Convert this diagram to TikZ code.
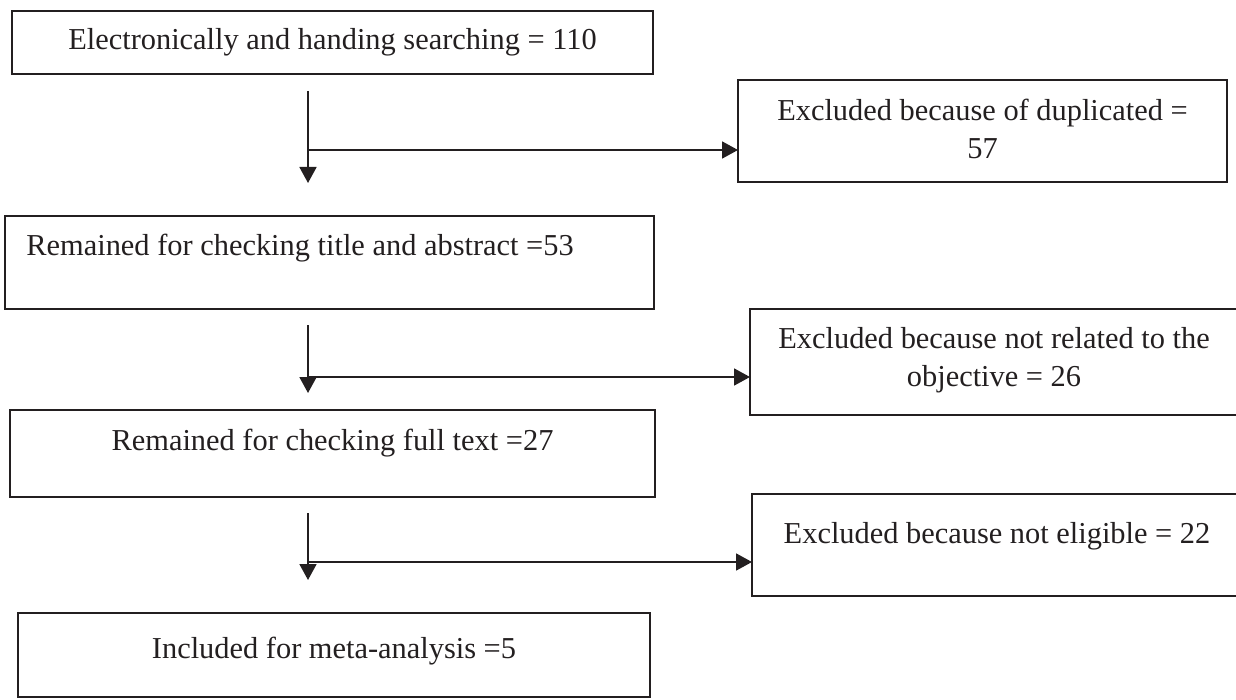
\documentclass[tikz,border=0pt]{standalone}
\usepackage{fontspec}
\setmainfont{Liberation Serif}
\usetikzlibrary{arrows.meta}
\definecolor{ink}{HTML}{231F20}
\begin{document}
\begin{tikzpicture}[x=0.5pt,y=-0.5pt,
  boxnode/.style={draw=ink, line width=1pt, inner sep=0pt, outer sep=0pt, rectangle},
  lbl/.style={text=ink, inner sep=0pt, font=\fontsize{15.2}{19}\selectfont, anchor=base},
  flow/.style={draw=ink, line width=0.9pt, -{Triangle[width=8.5pt,length=8pt]}}]
\useasboundingbox (0,0) rectangle (1236,700);

% boxes
\node[boxnode, minimum width=320.5pt, minimum height=31.5pt] (b1) at (332.5,42.5) {};
\node[boxnode, minimum width=244.5pt, minimum height=51pt] (dup) at (982.5,131) {};
\node[boxnode, minimum width=324.5pt, minimum height=46.5pt] (b2) at (329.5,262.5) {};
\node[boxnode, minimum width=244pt, minimum height=53pt] (obj) at (994,362) {};
\node[boxnode, minimum width=322.5pt, minimum height=43.5pt] (b4) at (332.5,453.5) {};
\node[boxnode, minimum width=243pt, minimum height=51pt] (elig) at (995,545) {};
\node[boxnode, minimum width=316pt, minimum height=42pt] (b6) at (334,655) {};

% texts
\node[lbl] (t1) at (332.5,50) {Electronically and handing searching = 110};
\node[lbl] (td1) at (982.5,121) {Excluded because of duplicated =};
\node[lbl] (td2) at (982.5,159) {57};
\node[lbl, anchor=base west] (t2) at (26,256) {Remained for checking title and abstract =53};
\node[lbl] (to1) at (994,348) {Excluded because not related to the};
\node[lbl] (to2) at (994,386) {objective = 26};
\node[lbl] (t4) at (332.5,450) {Remained for checking full text =27};
\node[lbl] (te) at (997,543) {Excluded because not eligible = 22};
\node[lbl] (t6) at (334,658) {Included for meta-analysis =5};

% connectors
\coordinate (s1) at (308,91);  \coordinate (e1) at (308,183); \coordinate (j1) at (308,150);
\coordinate (s2) at (308,325); \coordinate (e2) at (308,393); \coordinate (j2) at (308,377);
\coordinate (s3) at (308,513); \coordinate (e3) at (308,580); \coordinate (j3) at (308,562);
\draw[flow] (s1) -- (e1);
\draw[flow] (j1) -- (j1 -| dup.west);
\draw[flow] (s2) -- (e2);
\draw[flow] (j2) -- (j2 -| obj.west);
\draw[flow] (s3) -- (e3);
\draw[flow] (j3) -- (j3 -| elig.west);
\end{tikzpicture}
\end{document}
